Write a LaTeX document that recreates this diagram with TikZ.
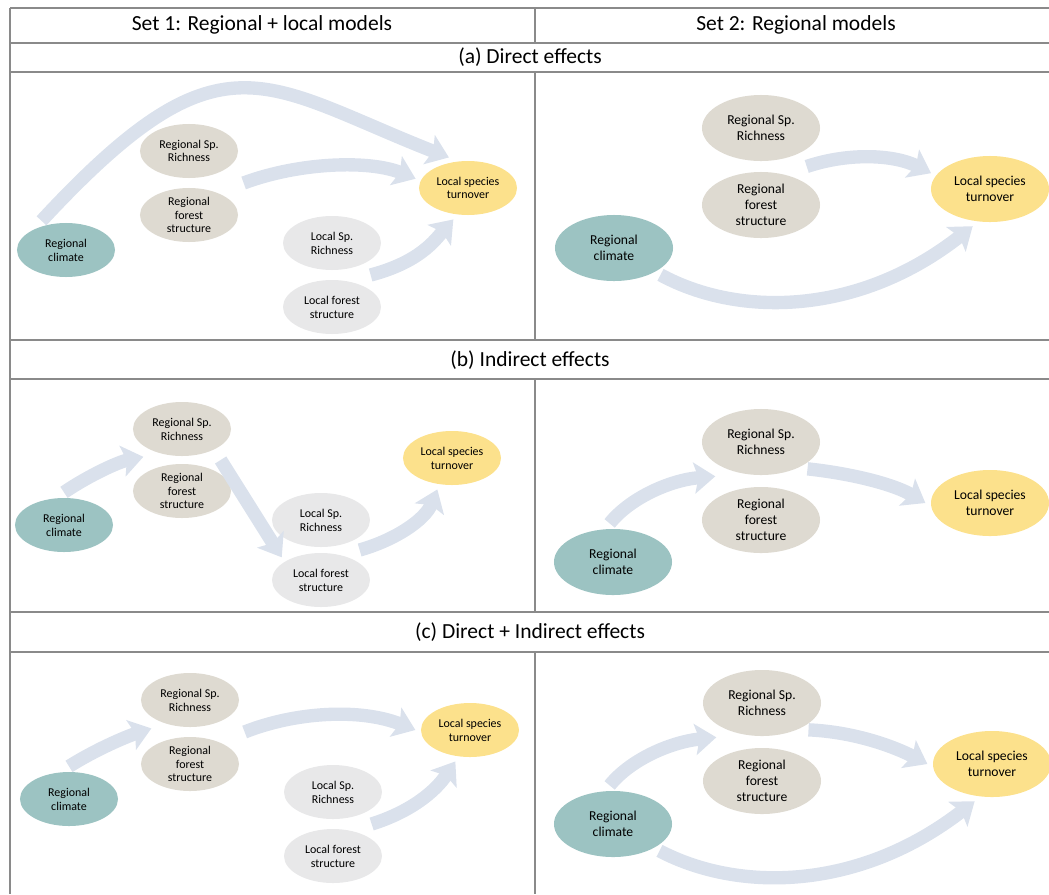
\documentclass[tikz,border=0pt]{standalone}
\usepackage{fontspec}
\setmainfont{Carlito}
\usetikzlibrary{arrows.meta,shapes.geometric,calc}

\definecolor{climc}{HTML}{9CC3C2}
\definecolor{regc}{HTML}{DEDAD1}
\definecolor{locc}{HTML}{E8E8E9}
\definecolor{turnc}{HTML}{FCE18C}
\definecolor{flowc}{HTML}{DAE1EC}
\definecolor{gridc}{HTML}{8A8A8A}

\begin{document}
\begin{tikzpicture}[x=0.025cm,y=-0.025cm,var/.style={ellipse,inner sep=0pt,outer sep=4pt,align=center},set1/.style={var,minimum width=2.45cm,minimum height=1.35cm,font=\fontsize{8.5}{9.8}\selectfont},set2/.style={var,minimum width=2.95cm,minimum height=1.65cm,font=\fontsize{9.7}{11.2}\selectfont},climbox/.style={fill=climc},regbox/.style={fill=regc},locbox/.style={fill=locc},outbox/.style={fill=turnc},flow/.style={-{Stealth[length=15pt,width=22pt,inset=3pt]},line width=9.5pt,draw=flowc},head/.style={font=\fontsize{15.3}{18}\selectfont},grid/.style={draw=gridc,line width=1.1pt}]
\useasboundingbox (0,0) rectangle (1049,894);
% table frame
\draw[grid] (10,8) -- (1049,8) (10,43) -- (1049,43) (10,72) -- (1049,72) (10,340) -- (1049,340) (10,379) -- (1049,379) (10,612) -- (1049,612) (10,652) -- (1049,652);
\draw[grid] (10,8) -- (10,894);
\draw[grid] (535,8) -- (535,43) (535,72) -- (535,340) (535,379) -- (535,612) (535,652) -- (535,894);
\node[head] (set1) at (262,25) {Set 1: Regional + local models};
\node[head] (set2) at (796,25) {Set 2: Regional models};
\node[head] (rowa) at (530,57) {(a) Direct effects};
\node[head] (rowb) at (530,360) {(b) Indirect effects};
\node[head] (rowc) at (530,632) {(c) Direct + Indirect effects};
% (a) set 1
\node[set1,climbox] (clim1a) at (66,250) {Regional\\climate};
\node[set1,regbox] (rich1a) at (189,151) {Regional Sp.\\Richness};
\node[set1,regbox] (forest1a) at (189,215) {Regional\\forest\\structure};
\node[set1,locbox] (lrich1a) at (332,243) {Local Sp.\\Richness};
\node[set1,locbox] (lforest1a) at (332,307) {Local forest\\structure};
\node[set1,outbox] (turn1a) at (468,188) {Local species\\turnover};
\draw[flow] (clim1a.130) .. controls (222,26) and (262,84) .. (turn1a.122);
\draw[flow] ($(rich1a.east)!.5!(forest1a.east)$) .. controls (300,162) and (370,160) .. (turn1a.170);
\draw[flow] ($(lrich1a.south east)!.5!(lforest1a.north east)$) .. controls (420,262) and (435,240) .. (turn1a.245);
% (a) set 2
\node[set2,climbox] (clim2a) at (614,248) {Regional\\climate};
\node[set2,regbox] (rich2a) at (761,128) {Regional Sp.\\Richness};
\node[set2,regbox] (forest2a) at (761,205) {Regional\\forest\\structure};
\node[set2,outbox] (turn2a) at (990,189) {Local species\\turnover};
\draw[flow] ($(rich2a.south east)!.5!(forest2a.north east)$) .. controls (850,152) and (895,155) .. (turn2a.165);
\draw[flow] (clim2a.-30) .. controls (740,318) and (860,315) .. (turn2a.245);
% (b) set 1
\node[set1,climbox] (clim1b) at (64,525) {Regional\\climate};
\node[set1,regbox] (rich1b) at (182,429) {Regional Sp.\\Richness};
\node[set1,regbox] (forest1b) at (182,491) {Regional\\forest\\structure};
\node[set1,locbox] (lrich1b) at (321,520) {Local Sp.\\Richness};
\node[set1,locbox] (lforest1b) at (321,580) {Local forest\\structure};
\node[set1,outbox] (turn1b) at (452,458) {Local species\\turnover};
\draw[flow] (clim1b.north) .. controls (88,476) and (118,462) .. ($(rich1b.south west)!.3!(forest1b.north west)$);
\draw[flow] ($(rich1b.south east)!.5!(forest1b.north east)$) -- (lforest1b.150);
\draw[flow] ($(lrich1b.south east)!.5!(lforest1b.north east)$) .. controls (395,540) and (425,520) .. (turn1b.245);
% (b) set 2
\node[set2,climbox] (clim2b) at (613,562) {Regional\\climate};
\node[set2,regbox] (rich2b) at (761,442) {Regional Sp.\\Richness};
\node[set2,regbox] (forest2b) at (761,520) {Regional\\forest\\structure};
\node[set2,outbox] (turn2b) at (990,503) {Local species\\turnover};
\draw[flow] (clim2b.95) .. controls (630,498) and (670,480) .. ($(rich2b.south west)!.3!(forest2b.north west)$);
\draw[flow] (rich2b.-30) .. controls (855,474) and (895,485) .. (turn2b.west);
% (c) set 1
\node[set1,climbox] (clim1c) at (69,799) {Regional\\climate};
\node[set1,regbox] (rich1c) at (190,700) {Regional Sp.\\Richness};
\node[set1,regbox] (forest1c) at (190,764) {Regional\\forest\\structure};
\node[set1,locbox] (lrich1c) at (333,792) {Local Sp.\\Richness};
\node[set1,locbox] (lforest1c) at (333,856) {Local forest\\structure};
\node[set1,outbox] (turn1c) at (470,730) {Local species\\turnover};
\draw[flow] (clim1c.north) .. controls (95,750) and (125,737) .. ($(rich1c.south west)!.3!(forest1c.north west)$);
\draw[flow] ($(rich1c.east)!.5!(forest1c.east)$) .. controls (295,712) and (360,708) .. (turn1c.west);
\draw[flow] ($(lrich1c.south east)!.5!(lforest1c.north east)$) .. controls (410,812) and (435,792) .. (turn1c.245);
% (c) set 2
\node[set2,climbox] (clim2c) at (613,824) {Regional\\climate};
\node[set2,regbox] (rich2c) at (762,703) {Regional Sp.\\Richness};
\node[set2,regbox] (forest2c) at (762,781) {Regional\\forest\\structure};
\node[set2,outbox] (turn2c) at (992,764) {Local species\\turnover};
\draw[flow] (clim2c.95) .. controls (630,760) and (670,742) .. ($(rich2c.south west)!.3!(forest2c.north west)$);
\draw[flow] (rich2c.-30) .. controls (857,732) and (897,748) .. (turn2c.west);
\draw[flow] (clim2c.-30) .. controls (740,893) and (860,890) .. (turn2c.245);
\end{tikzpicture}
\end{document}
